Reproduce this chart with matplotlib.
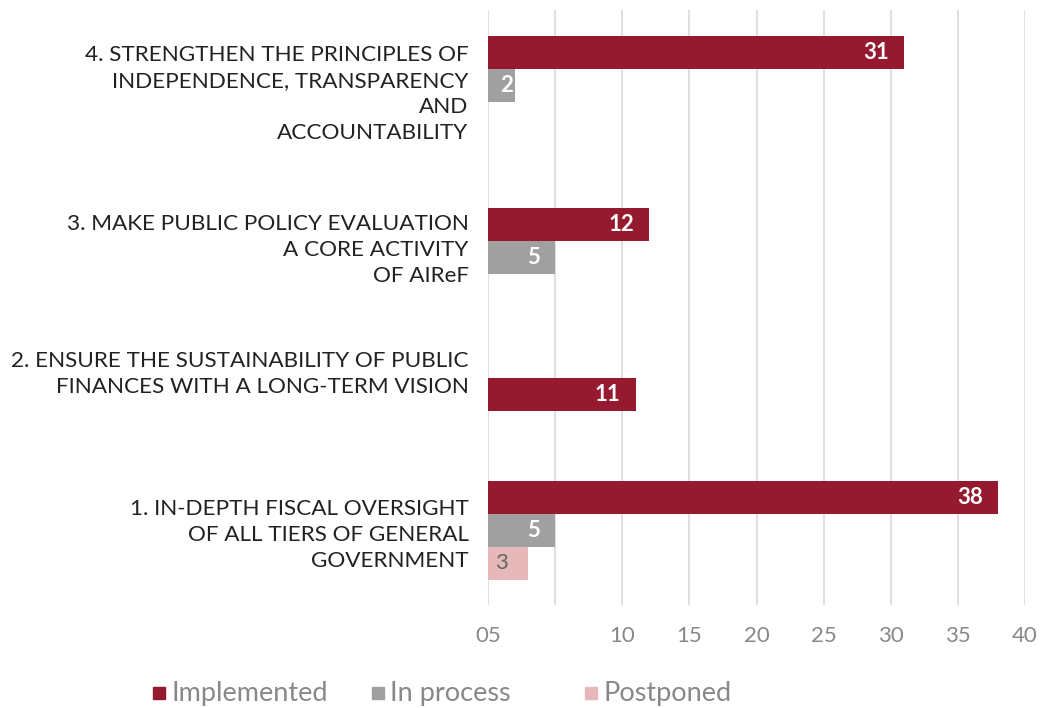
import numpy as np
import matplotlib.pyplot as plt
from matplotlib.patches import Rectangle

# data
categorias = ["1. IN-DEPTH FISCAL OVERSIGHT\nOF ALL TIERS OF GENERAL\nGOVERNMENT",
              "2. ENSURE THE SUSTAINABILITY OF PUBLIC\nFINANCES WITH A LONG-TERM VISION",
              "3. MAKE PUBLIC POLICY EVALUATION\nA CORE ACTIVITY\nOF AIReF",
              "4. STRENGTHEN THE PRINCIPLES OF\nINDEPENDENCE, TRANSPARENCY\nAND\nACCOUNTABILITY"]
implemented = [38, 11, 12, 31]
in_process = [5, None, 5, 2]
postponed = [3, None, None, None]

series = ["Implemented", "In process", "Postponed"]
kolory = ["#951A2F", "#A0A0A0", "#E6B8B9"]

# uklad (w pikselach od gory rysunku)
bar_h = 33
pierwszy_slupek = [497.5, 394.5, 224.5, 52.5]
pozycje_etykiet = [530, 369, 245, 89]
legenda_x = [153, 372, 585]

plt.rcParams['font.family'] = ['Lato', 'DejaVu Sans']
fig = plt.figure(figsize=(10.47, 7.08), dpi=100)
ax = fig.add_axes([488/1047, 1 - 605/708, (1025-488)/1047, 595/708])

for k, wartosci in enumerate([implemented, in_process, postponed]):
    for i, v in enumerate(wartosci):
        if v is None:
            continue
        y = pierwszy_slupek[i] + k * bar_h
        ax.barh(y, v, height=bar_h, color=kolory[k], zorder=3)
        styl = dict(va='center', fontsize=16, zorder=4, textcoords='offset points')
        if k < 2:
            styl.update(color='white', fontweight='bold')
        else:
            styl.update(color='#666666')
        if v < 3:
            # za krotki slupek - etykieta od poczatku
            ax.annotate(str(v), (0, y), xytext=(8.5, 0), ha='left', **styl)
        else:
            ax.annotate(str(v), (v, y), xytext=(-11 if k < 2 else -14.5, 0),
                        ha='right', **styl)

ax.set_ylim(605, 10)
ax.set_xlim(0, 40)
ax.set_xticks(np.arange(0, 41, 5), ["05", "", "10", "15", "20", "25", "30", "35", "40"])
ax.set_yticks(pozycje_etykiet, categorias, ha='right', ma='right')
for t in ax.get_yticklabels():
    t.set_linespacing(1.38)
ax.tick_params(axis='x', length=0, pad=15, labelsize=16, labelcolor='#888888')
ax.tick_params(axis='y', length=0, pad=14, labelsize=16.2, labelcolor='#222222')
ax.grid(axis='x', color='#E0E0E0', linewidth=1.5, zorder=0)
for s in ax.spines.values():
    s.set_visible(False)

# legenda
for x, nazwa, c in zip(legenda_x, series, kolory):
    fig.patches.append(Rectangle((x/1047, 1 - 699/708), 12/1047, 12/708,
                                 transform=fig.transFigure, color=c))
    fig.text((x + 18)/1047, 1 - 693/708, nazwa, ha='left', va='center',
             fontsize=19.5, color='#888888')

plt.savefig("out.png", dpi=100)
